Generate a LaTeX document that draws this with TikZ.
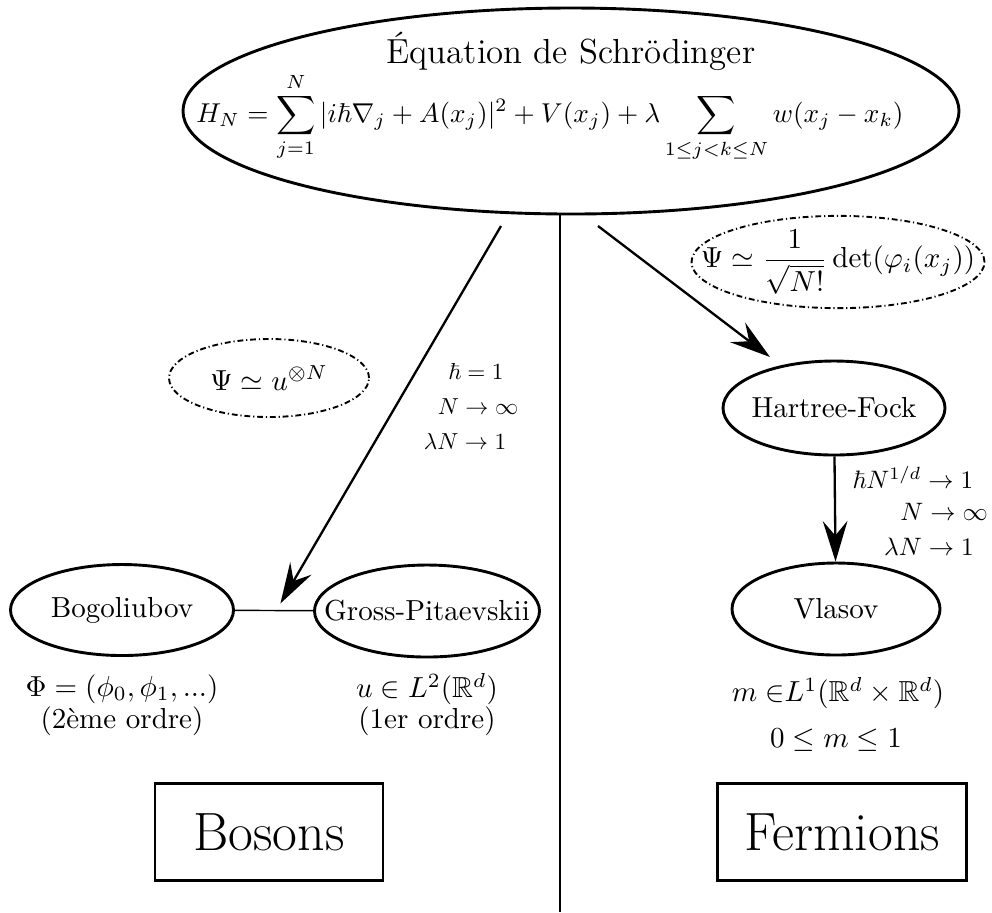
\documentclass[tikz,border=0pt]{standalone}
\usepackage{amsmath,amssymb}
\usetikzlibrary{shapes.geometric,arrows.meta}
\newcommand{\zb}[1]{\makebox[0pt]{#1}}
\begin{document}
\begin{tikzpicture}[x=0.345pt,y=-0.345pt,
  oval/.style={draw,ellipse,line width=1pt,inner sep=0pt},
  hyp/.style={draw,ellipse,line width=0.65pt,inner sep=0pt,dash pattern=on 2pt off 1pt on 0.4pt off 1pt},
  bigarrow/.style={line width=0.8pt,-{Stealth[length=14pt,width=8.5pt,inset=5pt]}},
  plain/.style={line width=0.75pt},
  famly/.style={draw,line width=0.75pt,minimum height=97*0.345pt,font=\fontsize{18.6pt}{22pt}\selectfont},
  lbl/.style={inner sep=0pt}
]
\useasboundingbox (0,0) rectangle (992,912);
% top ellipse
\node[oval,minimum width=776*0.345pt,minimum height=206*0.345pt] (top) at (571,111) {};
\node[lbl,font=\large] (title) at (571,51) {\'Equation de Schr\"odinger};
\node[lbl] (ham) at (550,117) {\scalebox{0.94}{$\displaystyle H_N=\sum_{j=1}^{N}|i\hbar\nabla_j+A(x_j)|^2+V(x_j)+\lambda\sum_{1\le j<k\le N}w(x_j-x_k)$}};
% vertical separator
\coordinate (vtop) at (560,214);
\coordinate (vbot) at (560,912);
\draw[plain] (vtop) -- (vbot);
% boson side
\node[oval,minimum width=223*0.345pt,minimum height=91*0.345pt] (bog) at (122,610) {\zb{Bogoliubov}};
\node[oval,minimum width=225*0.345pt,minimum height=92*0.345pt] (gp) at (427,611) {\zb{Gross-Pitaevskii}};
\draw[line width=0.5pt] (bog) -- (gp);
\coordinate (bgmid) at (276,611);
\coordinate (s1) at (501,226);
\draw[bigarrow,shorten >=3pt] (s1) -- (bgmid);
\node[hyp,minimum width=200*0.345pt,minimum height=78*0.345pt] (hb) at (269,378) {\zb{$\Psi\simeq u^{\otimes N}$}};
\node[lbl] (lb1) at (476,371) {\scalebox{0.8}{$\hbar=1$}};
\node[lbl] (lb2) at (478,407) {\scalebox{0.8}{$N\to\infty$}};
\node[lbl] (lb3) at (465,441) {\scalebox{0.8}{$\lambda N\to 1$}};
\node[lbl] (phi) at (122,689) {$\Phi=(\phi_0,\phi_1,...)$};
\node[lbl] (ord2) at (122,721) {(2\`eme ordre)};
\node[lbl] (uL) at (427,689) {$u\in L^2(\mathbb{R}^d)$};
\node[lbl] (ord1) at (427,721) {(1er ordre)};
\node[famly,minimum width=228*0.345pt] (bos) at (269,832) {Bosons};
% fermion side
\node[oval,minimum width=222*0.345pt,minimum height=94*0.345pt] (hf) at (834,408) {\zb{Hartree-Fock}};
\node[oval,minimum width=208*0.345pt,minimum height=92*0.345pt] (vl) at (836,609) {\zb{Vlasov}};
\coordinate (s2) at (598,226);
\coordinate (hfin) at (770,357);
\draw[bigarrow] (s2) -- (hfin);
\draw[bigarrow] (hf) -- (vl);
\node[hyp,minimum width=293*0.345pt,minimum height=82*0.345pt] (hfr) at (838,262) {\zb{$\Psi\simeq\dfrac{1}{\sqrt{N!}}\det(\varphi_i(x_j))$}};
\node[lbl] (rb1) at (913,477) {\scalebox{0.87}{$\hbar N^{1/d}\to 1$}};
\node[lbl] (rb2) at (944,512) {\scalebox{0.87}{$N\to\infty$}};
\node[lbl] (rb3) at (929,547) {\scalebox{0.87}{$\lambda N\to 1$}};
\node[lbl] (mL) at (838,693) {$m\mathrel{\in}\mskip-\thickmuskip L^1(\mathbb{R}^d\times\mathbb{R}^d)$};
\node[lbl] (mb) at (836,740) {$0\le m\le 1$};
\node[famly,minimum width=249*0.345pt] (fer) at (842,832) {Fermions};
\end{tikzpicture}
\end{document}
